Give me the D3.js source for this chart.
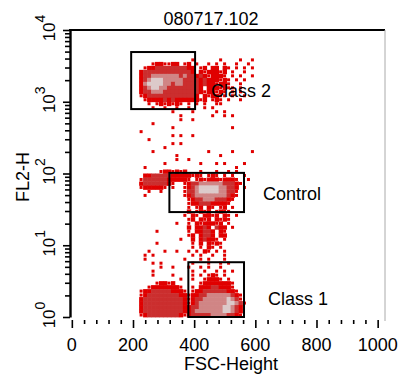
<!DOCTYPE html>
<html>
<head>
<meta charset="utf-8">
<script src="https://cdn.jsdelivr.net/npm/d3@7"></script>
<style>
  html, body { margin: 0; padding: 0; background: #fff; }
  svg { display: block; }
  text { font-family: "Liberation Sans", Arial, sans-serif; fill: #000; }
</style>
</head>
<body>
<div id="chart"></div>
<script>
// chart texts
const title = "080717.102";
const xLabel = "FSC-Height";
const yLabel = "FL2-H";

// axes
const xTicks = [0, 200, 400, 600, 800, 1000];
const xMinorStep = 40;
const yDecades = [1, 10, 100, 1000, 10000];

// gates (FSC channel range, FL2 range)
const gates = [
  { name: "Class 2", x: [194, 403], y: [790, 4930] },
  { name: "Control", x: [319, 563], y: [29, 102] },
  { name: "Class 1", x: [381, 563], y: [1, 5.8] }
];

// density grid: one string per FL2 row (top = 10^4),
// each char is one FSC bin starting at gridX0. '.' empty, 1 sparse .. 5 densest
const gridX0 = 220;
const gridBinX = 13;
const gridRowsPerDecade = 18;
const densityRows = [
  "", "", "", "", "", "", "",
  ".............1......1....1..1",
  "...1221122.12.1..1.1.1..1..1",
  ".1223333333322.12.22.21.1.1.1",
  "23333333333332.2122212.1..1",
  "2334444444343323212221.1.1..1",
  "23455544444333323222121.1.1",
  "24555544344333323221221..1",
  "2345544333333332.2221211.1",
  "2334443333333332122121.1.1",
  "123333333333332.212211.1..1",
  ".1222232322222212.121.1..1",
  "..1.1212121.1.1.1..11",
  "...1..1..1..1...1.1",
  "........1....1.....1.1",
  "..........1.......1..1.1",
  "..........1..1",
  "...1",
  "........1..............1",
  "1",
  "........1.1..1",
  "..1",
  "........1.1",
  "......1",
  "...1.............1.....1....1",
  ".........1..........1",
  ".........1..1",
  "......1........1...1.1....1",
  ".1......................1",
  ".....1221212...1...1..1.1",
  ".223333322222121.121.1.1..1",
  "1333333222221.12122212221..1",
  "233333321..123344444433321",
  "1222221.1..12345555544332.1",
  "..1..1.....13345555544331",
  ".1.........12344444444321",
  "............123344433321",
  "............12233322221",
  "............1.12.21.12.1",
  "............2.1212.1211",
  "...........1.21.2212.21.1",
  "............12.212.2121",
  ".........1..1.2122212.1",
  "............2.2232.322.1",
  "....1.......1.22332.21",
  "............12.2332.22",
  "..........1..2.23221.1",
  "....1........1.2.2121",
  ".............1.1.21.1",
  "..1...1..1..1.1.21.1.1",
  ".1.1.........1.1..1..1",
  ".1.........1...1.1...1",
  "...1.1.......1...1..1.1",
  ".....1..1...1..1.1..1",
  "...1.........1..1..1.1.1",
  "...1....1....1.1.121.1",
  "..........1..1..12221.1",
  "....12212......122222221",
  "..122222221..1.222332221",
  "122333332221.122333333221",
  "12333333332212233444444321",
  "23333333333212334444445431",
  "233333333332123444444455431",
  "23333333333223344444455432",
  "23333333333223444444455432",
  "12333333332123333344443321"
];

const width = 405, height = 377;
const levelColor = [null, "#e00000", "#e00000", "#cb2e2e", "#d08585", "#dccaca"];
const labelOffset = { "Class 2": [16, 16], "Control": [19, 8], "Class 1": [24, 15] };

const svg = d3.select("#chart").append("svg")
  .attr("width", width)
  .attr("height", height);

const x = d3.scaleLinear().domain([-6, 1024]).range([70, 385]);
const y = d3.scaleLog().domain([d3.min(yDecades), d3.max(yDecades)]).range([317, 30]);

// build the density cells
const topExp = Math.log10(d3.max(yDecades));
const cells = [];
densityRows.forEach((row, r) => {
  for (let c = 0; c < row.length; c++) {
    const level = +row[c];
    if (!level) continue;
    cells.push({
      x0: gridX0 + c * gridBinX,
      x1: gridX0 + (c + 1) * gridBinX,
      yHi: Math.pow(10, topExp - r / gridRowsPerDecade),
      yLo: Math.pow(10, topExp - (r + 1) / gridRowsPerDecade),
      level
    });
  }
});

svg.append("g")
  .attr("id", "dots")
  .selectAll("rect")
  .data(cells)
  .join("rect")
  .attr("x", d => d.level === 1 ? (x(d.x0) + x(d.x1)) / 2 - 1.5 : x(d.x0))
  .attr("y", d => d.level === 1 ? (y(d.yHi) + y(d.yLo)) / 2 - 1.5 : y(d.yHi))
  .attr("width", d => d.level === 1 ? 3 : x(d.x1) - x(d.x0) + 0.4)
  .attr("height", d => d.level === 1 ? 3 : y(d.yLo) - y(d.yHi) + 0.4)
  .attr("fill", d => levelColor[d.level]);

// frame: top and right
svg.append("line")
  .attr("x1", x.range()[0] - 1).attr("x2", x.range()[1])
  .attr("y1", y.range()[1]).attr("y2", y.range()[1])
  .attr("stroke", "#000").attr("stroke-width", 2);
svg.append("line")
  .attr("x1", x.range()[1]).attr("x2", x.range()[1])
  .attr("y1", y.range()[1]).attr("y2", y.range()[0] + 4)
  .attr("stroke", "#aaa").attr("stroke-width", 1);

// x axis ticks (minor + major), labels drawn separately
const xMinor = d3.range(0, d3.max(xTicks) + 1, xMinorStep).filter(v => !xTicks.includes(v));
svg.append("g")
  .attr("transform", `translate(0,${y.range()[0] + 3})`)
  .call(d3.axisBottom(x).tickValues(xMinor).tickSize(4).tickFormat(""))
  .call(g => g.select(".domain").remove())
  .call(g => g.selectAll("line").attr("stroke-width", 1.6));
svg.append("g")
  .attr("transform", `translate(0,${y.range()[0] + 3})`)
  .call(d3.axisBottom(x).tickValues(xTicks).tickSize(8).tickFormat(""))
  .call(g => g.select(".domain").remove())
  .call(g => g.selectAll("line").attr("stroke-width", 1.6));

svg.append("g")
  .selectAll("text")
  .data(xTicks)
  .join("text")
  .attr("x", d => x(d))
  .attr("y", 351)
  .attr("text-anchor", "middle")
  .style("font-size", "18px")
  .text(d => d);

// y axis (log)
const yMinor = [];
yDecades.slice(0, -1).forEach(d => {
  for (let k = 2; k <= 9; k++) yMinor.push(d * k);
});
svg.append("g")
  .attr("transform", `translate(${x.range()[0]},0)`)
  .call(d3.axisLeft(y).tickValues(yMinor).tickSize(5).tickFormat(""))
  .call(g => g.select(".domain").remove())
  .call(g => g.selectAll("line").attr("stroke-width", 1.6));
svg.append("g")
  .attr("transform", `translate(${x.range()[0]},0)`)
  .call(d3.axisLeft(y).tickValues(yDecades).tickSize(7).tickSizeOuter(0).tickFormat(""))
  .call(g => g.select(".domain").attr("stroke-width", 2.4))
  .call(g => g.selectAll("line").attr("stroke-width", 1.6));

const yLab = svg.append("g")
  .selectAll("text")
  .data(yDecades)
  .join("text")
  .attr("transform", d => `translate(55,${y(d) - 2}) rotate(-90)`)
  .attr("text-anchor", "middle")
  .style("font-size", "17px");
yLab.append("tspan").text("10");
yLab.append("tspan")
  .attr("dy", -10)
  .style("font-size", "14px")
  .text(d => Math.round(Math.log10(d)));

// gates
svg.append("g")
  .attr("id", "gates")
  .selectAll("rect")
  .data(gates)
  .join("rect")
  .attr("x", d => x(d.x[0]))
  .attr("y", d => y(d.y[1]))
  .attr("width", d => x(d.x[1]) - x(d.x[0]))
  .attr("height", d => y(d.y[0]) - y(d.y[1]))
  .attr("fill", "none")
  .attr("stroke", "#000")
  .attr("stroke-width", 2);

svg.append("g")
  .selectAll("text")
  .data(gates)
  .join("text")
  .attr("x", d => x(d.x[1]) + labelOffset[d.name][0])
  .attr("y", d => (y(d.y[0]) + y(d.y[1])) / 2 + labelOffset[d.name][1])
  .style("font-size", "18px")
  .text(d => d.name);

// titles
svg.append("text")
  .attr("x", 211).attr("y", 25)
  .attr("text-anchor", "middle")
  .style("font-size", "18px")
  .text(title);

svg.append("text")
  .attr("x", 231).attr("y", 370)
  .attr("text-anchor", "middle")
  .style("font-size", "18px")
  .text(xLabel);

svg.append("text")
  .attr("transform", "translate(29,177) rotate(-90)")
  .attr("text-anchor", "middle")
  .style("font-size", "18px")
  .text(yLabel);
</script>
</body>
</html>
